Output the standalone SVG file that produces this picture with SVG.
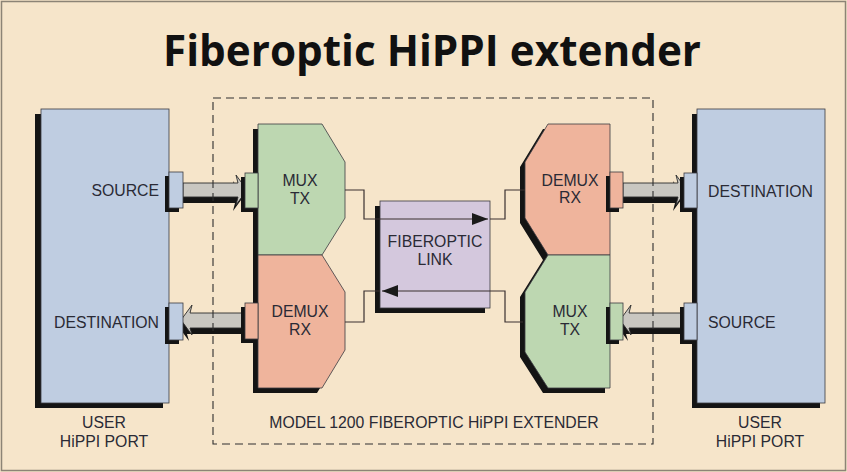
<svg xmlns="http://www.w3.org/2000/svg" width="847" height="472" viewBox="0 0 847 472">
<defs>
<style>
.lbl{font-family:"Liberation Sans",Arial,sans-serif;font-size:15.8px;fill:#2a2a35}
.mid{text-anchor:middle}
.end{text-anchor:end}
.sh{fill:#141414}
.blue{fill:#bfcde1;stroke:#3a3a40;stroke-width:0.8}
.green{fill:#bdd7b1;stroke:#3a3a40;stroke-width:0.8}
.salmon{fill:#efb49c;stroke:#3a3a40;stroke-width:0.8}
.lav{fill:#d4c8dd;stroke:#3a3a40;stroke-width:0.8}
.shaft{fill:#c9c7c1;stroke:#2a2a2a;stroke-width:0.9}
.wire{fill:none;stroke:#3a3030;stroke-width:1.2}
</style>
<marker id="ah" viewBox="0 0 16 12" refX="16" refY="6" markerWidth="16" markerHeight="12" markerUnits="userSpaceOnUse" orient="auto">
<path d="M0,0 L16,6 L0,12 Z" fill="#1a1a1a"/>
</marker>
</defs>
<rect x="0" y="0" width="847" height="472" fill="#f6e5ca"/>
<rect x="1.5" y="1.5" width="844" height="469" fill="none" stroke="#8c8476" stroke-width="1.5"/>
<text x="432" y="66" text-anchor="middle" font-family="'Open Sans','Liberation Sans',sans-serif" font-weight="700" font-size="43" fill="#111" textLength="538" lengthAdjust="spacingAndGlyphs">Fiberoptic HiPPI extender</text>

<g id="user-left">
<rect class="sh" x="35" y="114" width="128" height="294"/>
<rect class="blue" x="41" y="109" width="128" height="294"/>
<text class="lbl end" x="159" y="196">SOURCE</text>
<text class="lbl end" x="159" y="328">DESTINATION</text>
<text class="lbl mid" x="104" y="428">USER</text>
<text class="lbl mid" x="104" y="447">HiPPI PORT</text>
</g>

<g id="user-right">
<rect class="sh" x="692" y="114" width="128" height="294"/>
<rect class="blue" x="697" y="109" width="128" height="294"/>
<text class="lbl" x="708" y="197">DESTINATION</text>
<text class="lbl" x="708" y="328">SOURCE</text>
<text class="lbl mid" x="760" y="428">USER</text>
<text class="lbl mid" x="760" y="447">HiPPI PORT</text>
</g>

<g id="mux-left-shadow">
<polygon class="sh" points="253,129 317,129 340,167 340,223 317,260 340,297 340,355 317,393 253,393"/>
</g>
<g id="mux-tx-left">
<polygon class="green" points="258,124 322,124 345,162 345,218 322,255 258,255"/>
<text class="lbl mid" x="300" y="186">MUX</text>
<text class="lbl mid" x="300" y="204">TX</text>
</g>
<g id="demux-rx-left">
<polygon class="salmon" points="258,255 322,255 345,292 345,350 322,388 258,388"/>
<text class="lbl mid" x="300" y="317">DEMUX</text>
<text class="lbl mid" x="300" y="335">RX</text>
</g>

<g id="mux-right-shadow">
<polygon class="sh" points="543,129 605,129 605,393 543,393 520,357 520,297 543,260 520,223 520,167"/>
</g>
<g id="demux-rx-right">
<polygon class="salmon" points="548,124 610,124 610,255 548,255 525,218 525,162"/>
<text class="lbl mid" x="570" y="186">DEMUX</text>
<text class="lbl mid" x="570" y="203">RX</text>
</g>
<g id="mux-tx-right">
<polygon class="green" points="548,255 610,255 610,388 548,388 525,352 525,292"/>
<text class="lbl mid" x="570" y="317">MUX</text>
<text class="lbl mid" x="570" y="335">TX</text>
</g>

<g id="fiberoptic-link">
<rect class="sh" x="375" y="206" width="110" height="107"/>
<rect class="lav" x="380" y="201" width="110" height="107"/>
<text class="lbl mid" x="435" y="247">FIBEROPTIC</text>
<text class="lbl mid" x="435" y="265">LINK</text>
</g>

<g id="connectors">
<g id="bus-arrows">
<polygon class="sh" points="180,189 235,189 233,181 244,196 233,211 235,203 180,203"/>
<polygon class="shaft" points="183,183 238,183 236,175 247,190 236,205 238,197 183,197"/>
<polygon class="sh" points="620,189 675,189 673,181 684,196 673,211 675,203 620,203"/>
<polygon class="shaft" points="623,183 678,183 676,175 687,190 676,205 678,197 623,197"/>
<polygon class="sh" points="242,319 187,319 189,311 178,326 189,341 187,334 242,334"/>
<polygon class="shaft" points="245,313 190,313 192,305 181,320 192,335 190,328 245,328"/>
<polygon class="sh" points="681,319 626,319 628,311 617,326 628,341 626,334 681,334"/>
<polygon class="shaft" points="684,313 629,313 631,305 620,320 631,335 629,328 684,328"/>
</g>
<path class="wire" d="M345,190 H364 V219 H488" marker-end="url(#ah)"/>
<path class="wire" d="M490,219 H505 V190 H525"/>
<path class="wire" d="M523,322 H505 V291 H382" marker-end="url(#ah)"/>
<path class="wire" d="M380,291 H364 V322 H345"/>
</g>

<g id="ports">
<rect class="sh" x="165" y="176" width="14" height="36"/>
<rect class="blue" x="169" y="172" width="14" height="36"/>
<rect class="sh" x="165" y="307" width="14" height="37"/>
<rect class="blue" x="169" y="303" width="14" height="37"/>
<rect class="sh" x="241" y="177" width="13" height="35"/>
<rect class="green" x="245" y="173" width="13" height="35"/>
<rect class="sh" x="241" y="307" width="13" height="36"/>
<rect class="salmon" x="245" y="303" width="13" height="36"/>
<rect class="sh" x="606" y="176" width="13" height="36"/>
<rect class="salmon" x="610" y="172" width="13" height="36"/>
<rect class="sh" x="680" y="177" width="13" height="35"/>
<rect class="blue" x="684" y="173" width="13" height="35"/>
<rect class="sh" x="606" y="307" width="13" height="37"/>
<rect class="green" x="610" y="303" width="13" height="37"/>
<rect class="sh" x="680" y="307" width="13" height="37"/>
<rect class="blue" x="684" y="303" width="13" height="37"/>
</g>

<g id="extender-boundary">
<rect x="213" y="98" width="440" height="346" fill="none" stroke="#2e2e2e" stroke-width="1.1" stroke-dasharray="8 5"/>
<text class="lbl mid" x="434" y="428">MODEL 1200 FIBEROPTIC HiPPI EXTENDER</text>
</g>
</svg>
